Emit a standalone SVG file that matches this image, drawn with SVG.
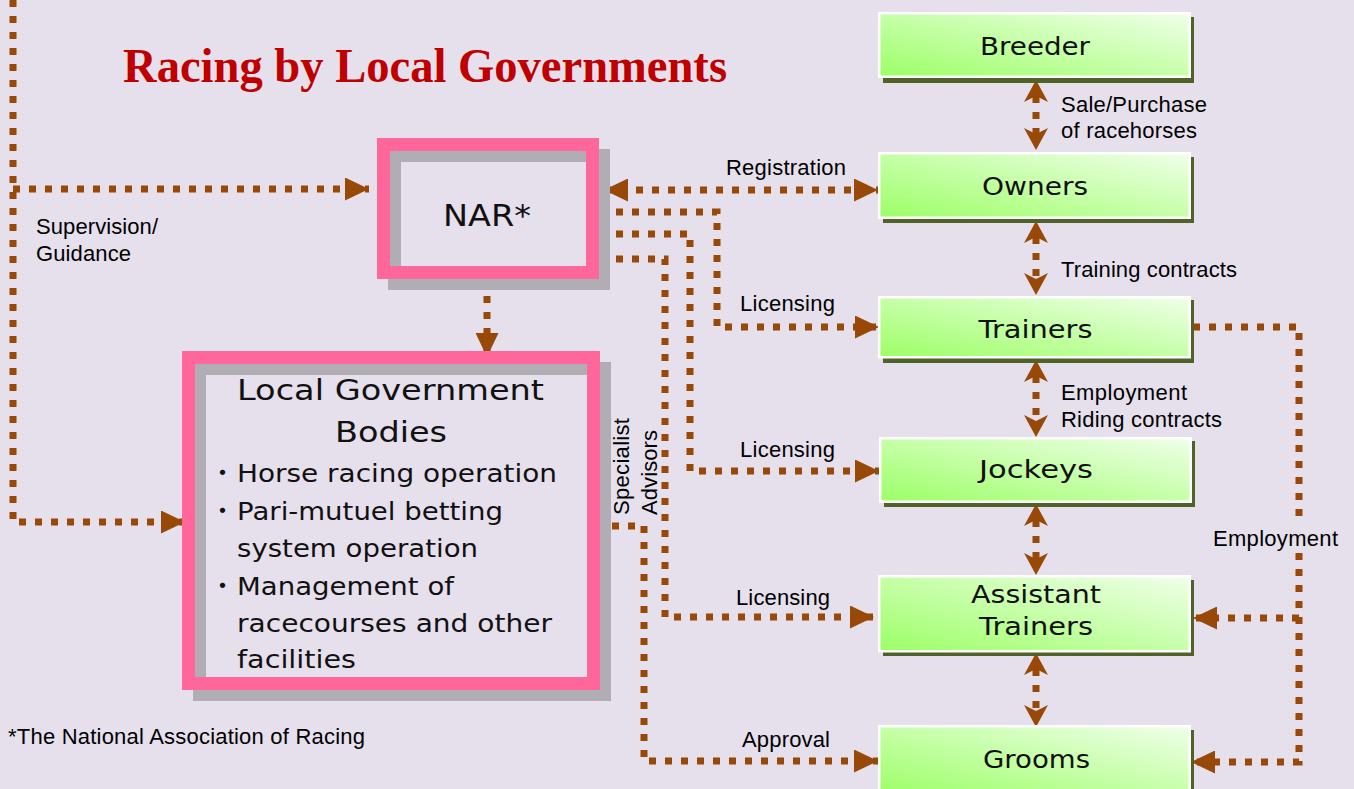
<svg xmlns="http://www.w3.org/2000/svg" width="1354" height="789" viewBox="0 0 1354 789">
<defs>
<linearGradient id="gr" x1="0" y1="1" x2="1" y2="0">
<stop offset="0" stop-color="#9CFF66"/>
<stop offset="1" stop-color="#F0FFEA"/>
</linearGradient>
<marker id="tri" viewBox="0 0 24 23" refX="24" refY="11.5" markerWidth="24" markerHeight="23" markerUnits="userSpaceOnUse" orient="auto-start-reverse">
<path d="M0,0 L24,11.5 L0,23 Z" fill="#984807"/>
</marker>
<marker id="notch" viewBox="0 0 22 24" refX="6" refY="12" markerWidth="22" markerHeight="24" markerUnits="userSpaceOnUse" orient="auto-start-reverse">
<path d="M0,0 L22,12 L0,24 L6,12 Z" fill="#984807"/>
</marker>
<style>
.bg{fill:#E5E0EC}
.dot{fill:none;stroke:#984807;stroke-width:7;stroke-dasharray:7 9}
.pink{fill:none;stroke:#FF6699;stroke-width:13}
.shade{fill:none;stroke:#B0AEB4;stroke-width:13}
.gbox{fill:url(#gr);stroke:#FFFFFF;stroke-width:2.5}
.gsh{fill:#4F6228}
.box{font-family:"DejaVu Sans","Noto Sans CJK JP",sans-serif;fill:#111}
.gt{font-family:"DejaVu Sans",sans-serif;font-size:25px;fill:#111;text-anchor:middle}
.lbl{font-family:"Liberation Sans",Arial,sans-serif;font-size:22px;fill:#000}
</style>
</defs>
<rect class="bg" x="0" y="0" width="1354" height="789"/>

<text x="123" y="82" font-family="'Liberation Serif','Times New Roman',serif" font-weight="bold" font-size="48" fill="#C00000" textLength="604" lengthAdjust="spacingAndGlyphs">Racing by Local Governments</text>

<g id="connectors">
<path class="dot" d="M13,0 V522 H185" marker-end="url(#tri)"/>
<path class="dot" d="M13,189 H369" marker-end="url(#tri)"/>
<path class="dot" d="M487,280 V357" marker-end="url(#tri)"/>
<path class="dot" d="M604,190 H878" marker-start="url(#tri)" marker-end="url(#tri)"/>
<path class="dot" d="M600,212 H717 V327 H879" marker-end="url(#tri)"/>
<path class="dot" d="M600,234 H690 V471 H879" marker-end="url(#tri)"/>
<path class="dot" d="M600,259 H665 V617 H874" marker-end="url(#tri)"/>
<path class="dot" d="M612,526 H644 V761 H878" marker-end="url(#tri)"/>
<path class="dot" d="M1193,327 H1299 V520"/>
<path class="dot" d="M1299,553 V762 H1191" marker-end="url(#tri)"/>
<path class="dot" d="M1299,618 H1193" marker-end="url(#tri)"/>
<path class="dot" d="M1036,96 V134" marker-start="url(#notch)" marker-end="url(#notch)"/>
<path class="dot" d="M1036,237 V279" marker-start="url(#notch)" marker-end="url(#notch)"/>
<path class="dot" d="M1036,376 V421" marker-start="url(#notch)" marker-end="url(#notch)"/>
<path class="dot" d="M1036,520 V559" marker-start="url(#notch)" marker-end="url(#notch)"/>
<path class="dot" d="M1036,669 V711" marker-start="url(#notch)" marker-end="url(#notch)"/>
</g>

<g id="labels">
<text class="lbl" x="36" y="234" textLength="122">Supervision/</text>
<text class="lbl" x="36" y="261" textLength="95">Guidance</text>
<text class="lbl" x="726" y="175" textLength="120">Registration</text>
<text class="lbl" x="740" y="311" textLength="95">Licensing</text>
<text class="lbl" x="740" y="457" textLength="95">Licensing</text>
<text class="lbl" x="736" y="605" textLength="94">Licensing</text>
<text class="lbl" x="742" y="747" textLength="88">Approval</text>
<text class="lbl" transform="translate(629,515) rotate(-90)" textLength="97">Specialist</text>
<text class="lbl" transform="translate(657,515) rotate(-90)" textLength="85">Advisors</text>
<text class="lbl" x="1061" y="112" textLength="146">Sale/Purchase</text>
<text class="lbl" x="1061" y="138" textLength="136">of racehorses</text>
<text class="lbl" x="1061" y="277" textLength="176">Training contracts</text>
<text class="lbl" x="1061" y="400" textLength="126">Employment</text>
<text class="lbl" x="1061" y="427" textLength="161">Riding contracts</text>
<text class="lbl" x="1213" y="546" textLength="125">Employment</text>
<text class="lbl" x="8" y="744" textLength="357">*The National Association of Racing</text>
</g>

<g id="nar">
<rect class="shade" x="394.5" y="155.5" width="209" height="128"/>
<rect class="pink" x="383.5" y="144.5" width="209" height="128"/>
<text class="box" x="487" y="226" font-size="31" text-anchor="middle" textLength="88" lengthAdjust="spacingAndGlyphs">NAR*</text>
</g>

<g id="local-gov">
<rect class="shade" x="199.5" y="368.5" width="405" height="326"/>
<rect class="pink" x="188.5" y="357.5" width="405" height="326"/>
<text class="box" x="390.5" y="400" font-size="29" text-anchor="middle" textLength="307" lengthAdjust="spacingAndGlyphs">Local Government</text>
<text class="box" x="391" y="442" font-size="29" text-anchor="middle" textLength="112" lengthAdjust="spacingAndGlyphs">Bodies</text>
<text class="box" font-size="25"><tspan x="210" y="482">・</tspan><tspan x="237" y="482" textLength="320" lengthAdjust="spacingAndGlyphs">Horse racing operation</tspan></text>
<text class="box" font-size="25"><tspan x="210" y="520">・</tspan><tspan x="237" y="520" textLength="266" lengthAdjust="spacingAndGlyphs">Pari-mutuel betting</tspan></text>
<text class="box" font-size="25" x="237" y="557" textLength="241" lengthAdjust="spacingAndGlyphs">system operation</text>
<text class="box" font-size="25"><tspan x="210" y="595">・</tspan><tspan x="237" y="595" textLength="217" lengthAdjust="spacingAndGlyphs">Management of</tspan></text>
<text class="box" font-size="25" x="237" y="632" textLength="315" lengthAdjust="spacingAndGlyphs">racecourses and other</text>
<text class="box" font-size="25" x="237" y="668" textLength="119" lengthAdjust="spacingAndGlyphs">facilities</text>
</g>

<g id="breeder">
<rect class="gsh" x="883" y="17" width="311" height="66"/>
<rect class="gbox" x="879.25" y="13.25" width="310.5" height="63.5"/>
<text class="gt" x="1035" y="55" textLength="110" lengthAdjust="spacingAndGlyphs">Breeder</text>
</g>
<g id="owners">
<rect class="gsh" x="883" y="157" width="311" height="66"/>
<rect class="gbox" x="879.25" y="153.25" width="310.5" height="64.5"/>
<text class="gt" x="1035" y="195" textLength="106" lengthAdjust="spacingAndGlyphs">Owners</text>
</g>
<g id="trainers">
<rect class="gsh" x="883" y="300" width="311" height="63"/>
<rect class="gbox" x="879.25" y="297.25" width="310.5" height="60"/>
<text class="gt" x="1035.5" y="338" textLength="114" lengthAdjust="spacingAndGlyphs">Trainers</text>
</g>
<g id="jockeys">
<rect class="gsh" x="884" y="441" width="311" height="66"/>
<rect class="gbox" x="880.25" y="438.25" width="310.5" height="63.5"/>
<text class="gt" x="1036" y="478" textLength="114" lengthAdjust="spacingAndGlyphs">Jockeys</text>
</g>
<g id="assistant-trainers">
<rect class="gsh" x="883" y="580" width="311" height="76"/>
<rect class="gbox" x="879.25" y="576.25" width="310.5" height="75"/>
<text class="gt" x="1036" y="603" textLength="130" lengthAdjust="spacingAndGlyphs">Assistant</text>
<text class="gt" x="1036" y="635" textLength="114" lengthAdjust="spacingAndGlyphs">Trainers</text>
</g>
<g id="grooms">
<rect class="gsh" x="883" y="730" width="311" height="70"/>
<rect class="gbox" x="879.25" y="726.25" width="310.5" height="70"/>
<text class="gt" x="1036.5" y="768" textLength="107" lengthAdjust="spacingAndGlyphs">Grooms</text>
</g>
</svg>
